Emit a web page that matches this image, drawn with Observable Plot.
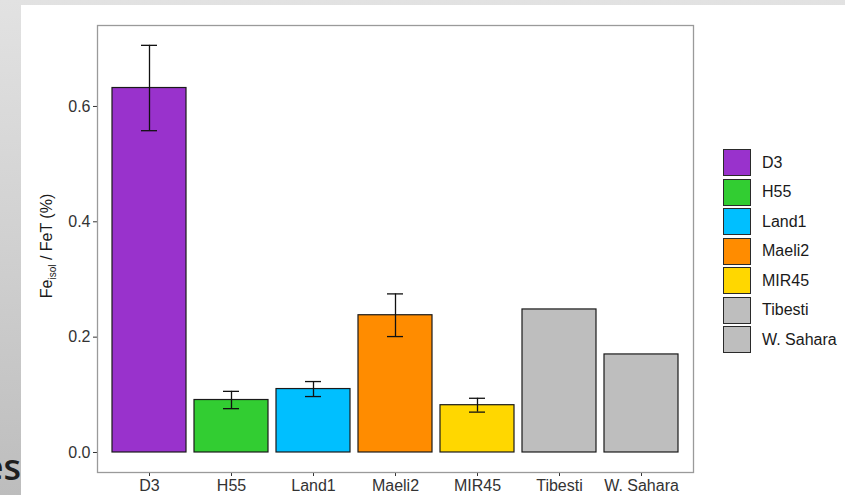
<!DOCTYPE html>
<html><head><meta charset="utf-8">
<script src="https://cdn.jsdelivr.net/npm/d3@7"></script>
<script src="https://cdn.jsdelivr.net/npm/@observablehq/plot@0.6"></script>
<style>
html,body{margin:0;padding:0;}
body{width:845px;height:495px;overflow:hidden;position:relative;
  background:linear-gradient(180deg,#e2e2e2 0%,#d2d2d2 45%,#bdbdbd 100%);
  font-family:"Liberation Sans",Arial,sans-serif;}
#card{position:absolute;left:21px;top:5px;width:824px;height:490px;background:#fff;}
#es{position:absolute;right:824px;top:447px;font-family:"Open Sans",sans-serif;font-weight:600;font-size:36px;line-height:40px;color:#1e1e1e;white-space:nowrap;}
#chart{position:absolute;left:0;top:0;}
#legend{position:absolute;left:723px;top:148px;}
.row{display:flex;align-items:center;height:29.5px;}
.key{width:26px;height:25px;border:1.5px solid #2a2a2a;box-sizing:content-box;}
.lab{margin-left:11px;font-size:16px;color:#1a1a1a;}
</style>
</head><body>
<div id="es">es</div>
<div id="card"></div>
<div id="chart"></div>
<div id="legend"></div>
<script>
const categories = ["D3","H55","Land1","Maeli2","MIR45","Tibesti","W. Sahara"];
const means = [0.632,0.091,0.110,0.238,0.082,0.248,0.170];
const errs = [0.074,0.015,0.013,0.037,0.012,null,null];
const colors = ["#9932CC","#32CD32","#00BFFF","#FF8C00","#FFD700","#BEBEBE","#BEBEBE"];
const yTicks = [0,0.2,0.4,0.6];

const data = categories.map((c,i)=>({cat:c, v:means[i], e:errs[i]}));
const eb = data.filter(d=>d.e!=null);

const plot = Plot.plot({
  width:845, height:495,
  marginLeft:97, marginRight:152, marginTop:25, marginBottom:23,
  style:{background:"transparent", fontFamily:"'Liberation Sans', Arial, sans-serif", fontSize:"16px", color:"#333", overflow:"visible"},
  x:{domain:categories, paddingInner:0.1, paddingOuter:0.15, label:null},
  y:{domain:[-0.0347,0.7404], label:null},
  color:{domain:categories, range:colors},
  marks:[
    Plot.axisY(yTicks,{tickFormat:d3.format(".1f"), tickSize:4, tickPadding:3, label:null}),
    Plot.axisX({tickSize:4, tickPadding:3, label:null}),
    Plot.barY(data,{x:"cat", y:"v", fill:"cat", stroke:"#1a1a1a", strokeWidth:1.2}),
    Plot.ruleX(eb,{x:"cat", y1:d=>d.v-d.e, y2:d=>d.v+d.e, stroke:"#111", strokeWidth:1.3}),
    Plot.tickY(eb,{x:"cat", y:d=>d.v-d.e, insetLeft:29, insetRight:29, stroke:"#111", strokeWidth:1.3}),
    Plot.tickY(eb,{x:"cat", y:d=>d.v+d.e, insetLeft:29, insetRight:29, stroke:"#111", strokeWidth:1.3}),
    Plot.frame({stroke:"#9a9a9a", strokeWidth:1.3})
  ]
});
document.getElementById("chart").appendChild(plot);

// y-axis title with subscript
const svg = d3.select(plot);
const t = svg.append("text")
  .attr("transform","translate(52,246) rotate(-90)")
  .attr("text-anchor","middle")
  .attr("fill","#1a1a1a")
  .style("font-size","16px");
t.append("tspan").text("Fe");
t.append("tspan").attr("dy","4").style("font-size","10px").text("isol");
t.append("tspan").attr("dy","-4").text(" / FeT (%)");

// legend
const lg = d3.select("#legend");
categories.forEach((c,i)=>{
  const r = lg.append("div").attr("class","row");
  r.append("div").attr("class","key").style("background",colors[i]);
  r.append("div").attr("class","lab").text(c);
});
</script>
</body></html>
